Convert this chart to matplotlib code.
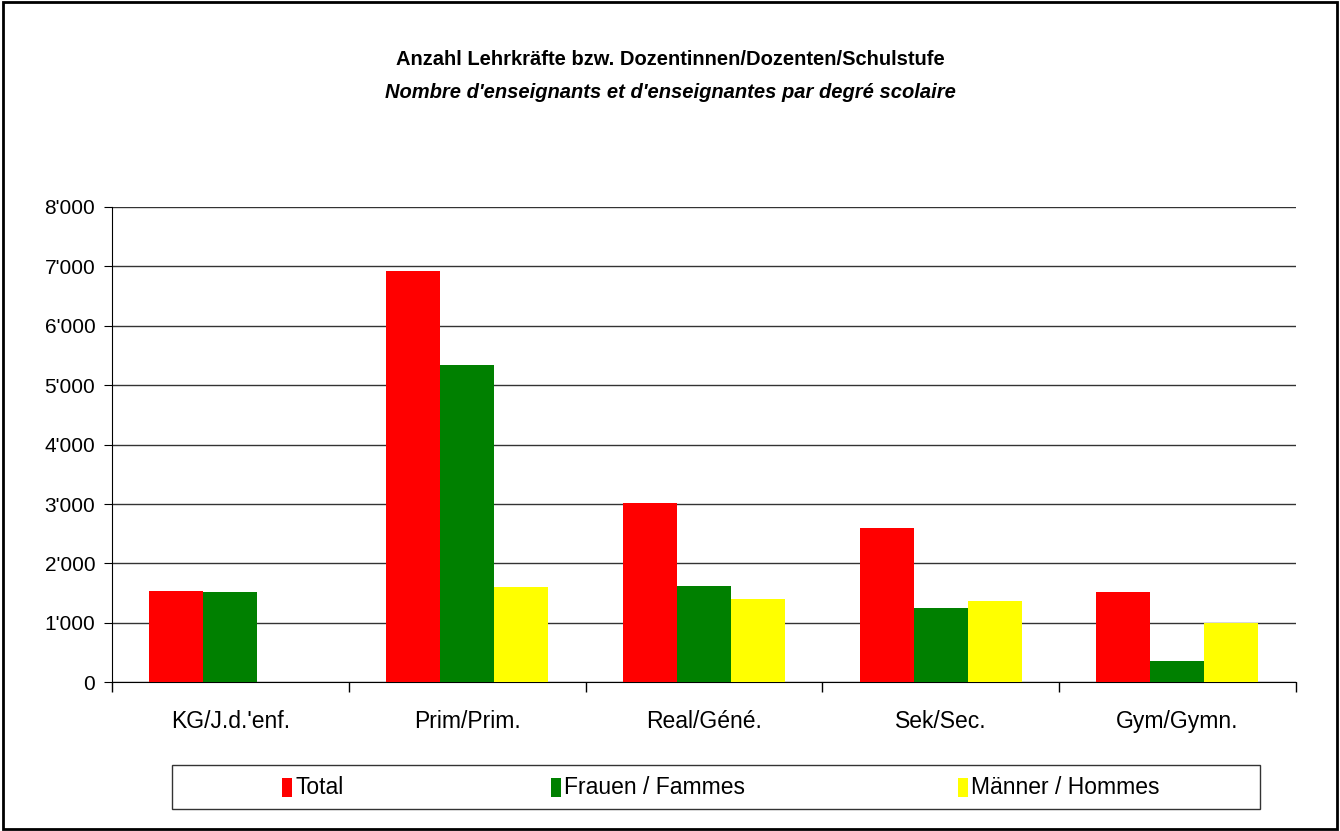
import numpy as np
import matplotlib
matplotlib.use("Agg")
import matplotlib.pyplot as plt
from matplotlib.patches import Rectangle
from matplotlib.ticker import FuncFormatter

plt.rcParams['font.family'] = ['Liberation Sans', 'DejaVu Sans']

categories = ["KG/J.d.'enf.", "Prim/Prim.", "Real/Géné.", "Sek/Sec.", "Gym/Gymn."]
total = [1530, 6920, 3010, 2590, 1515]
frauen = [1515, 5340, 1620, 1245, 355]
maenner = [10, 1595, 1395, 1360, 1005]
series_names = ["Total", "Frauen / Fammes", "Männer / Hommes"]
colors = ["#ff0000", "#008000", "#ffff00"]

fig = plt.figure(figsize=(13.4, 8.31), dpi=100)
ax = fig.add_axes([0.0836, 0.179, 0.967 - 0.0836, 0.751 - 0.179])

x = np.arange(len(categories))
w = 0.228
for k, vals in enumerate([total, frauen, maenner]):
    ax.bar(x + (k - 1) * w, vals, width=w, color=colors[k], zorder=3)

ax.set_xlim(-0.5, len(categories) - 0.5)
ax.set_ylim(0, 8000)
ax.set_yticks(np.arange(0, 8001, 1000))
ax.yaxis.set_major_formatter(FuncFormatter(lambda v, p: "0" if v == 0 else f"{int(v/1000)}'000"))
ax.set_xticks(x)
ax.set_xticklabels(categories)
ax.set_xticks(np.arange(-0.5, len(categories)), minor=True)
ax.tick_params(axis='x', which='major', length=0, pad=20, labelsize=16.5)
ax.tick_params(axis='x', which='minor', length=7, direction='out', width=1)
ax.tick_params(axis='y', length=6, direction='out', labelsize=15, pad=6)
ax.grid(axis='y', color='#333333', linewidth=1, zorder=0)
for s in ['top', 'right']:
    ax.spines[s].set_visible(False)
ax.spines['left'].set_color('black')
ax.spines['bottom'].set_color('black')

fig.text(0.5, 0.929, "Anzahl Lehrkräfte bzw. Dozentinnen/Dozenten/Schulstufe",
         ha='center', va='center', fontsize=14.5, fontweight='bold')
fig.text(0.5, 0.889, "Nombre d'enseignants et d'enseignantes par degré scolaire",
         ha='center', va='center', fontsize=14.5, fontweight='bold', style='italic')

# legend box
W, H = 1340, 831
fig.patches.append(Rectangle((172 / W, 1 - 809 / H), (1260 - 172) / W, 44 / H,
                             transform=fig.transFigure, facecolor='white',
                             edgecolor='#333333', linewidth=1))
for name, c, px in zip(series_names, colors, [282, 551, 958]):
    fig.patches.append(Rectangle((px / W, 1 - 797 / H), 10 / W, 19 / H,
                                 transform=fig.transFigure, facecolor=c, edgecolor='none'))
    fig.text((px + 13) / W, 1 - 788 / H, name, ha='left', va='center', fontsize=16.5)

# outer border
fig.patches.append(Rectangle((0.002, 0.002), 0.996, 0.996, transform=fig.transFigure,
                             facecolor='none', edgecolor='black', linewidth=2))

fig.savefig("out.png", dpi=100)
